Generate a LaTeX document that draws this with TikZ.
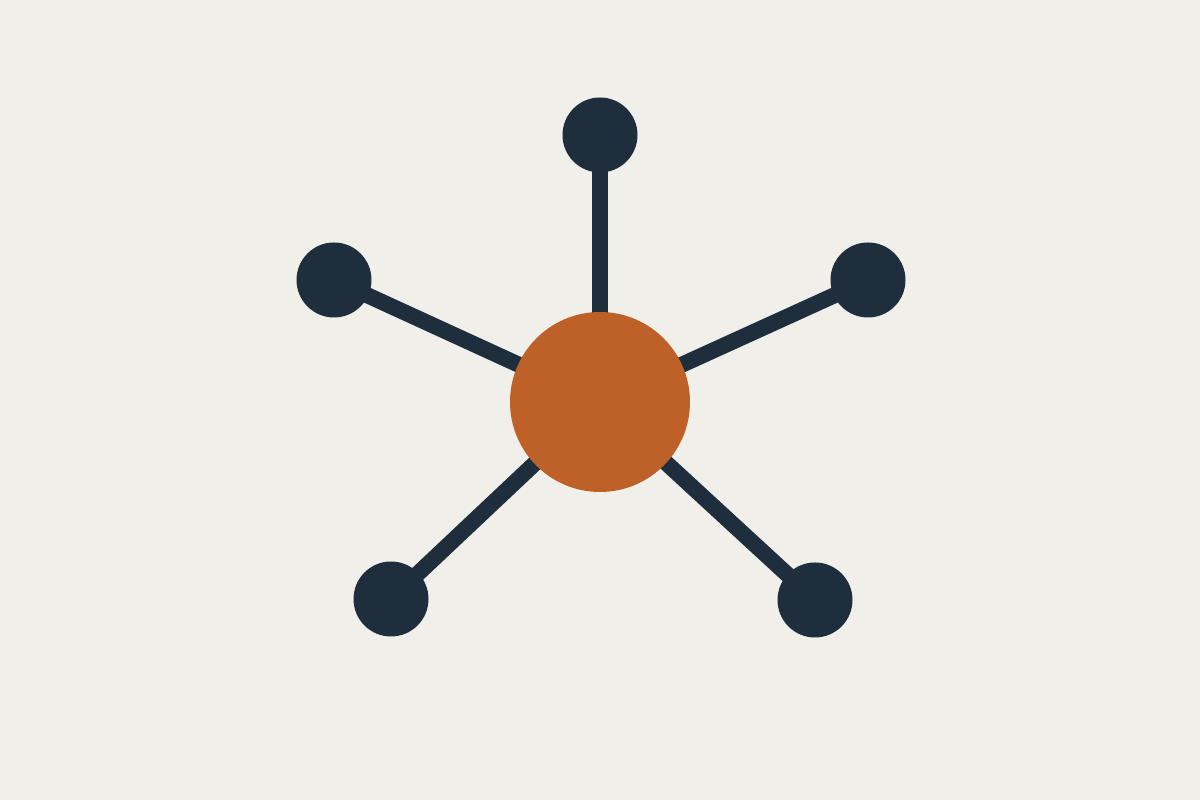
\documentclass[tikz,border=0pt]{standalone}
\usepackage{tikz}
\usetikzlibrary{shapes,positioning}
\definecolor{paper}{HTML}{F1EFEA}
\definecolor{navy}{HTML}{1F2E3C}
\definecolor{rust}{HTML}{BE6129}
\pgfdeclarelayer{bg}
\pgfsetlayers{bg,main}
\tikzset{
    hub/.style={circle,fill=rust,inner sep=0pt,minimum size=1.8cm},
    leaf/.style={circle,fill=navy,inner sep=0pt,minimum size=0.75cm},
    spoke/.style={navy,line width=0.16cm}
}

\begin{document}
\begin{tikzpicture}
    \useasboundingbox (0,0) rectangle (12,8);
    %Hub
    \node[hub] (hub) at (6,3.98) {};
    %Leaves
    \node[leaf] (top) at (6,6.65) {};
    \node[leaf] (left) at (3.34,5.2) {};
    \node[leaf] (right) at (8.68,5.2) {};
    \node[leaf] (botleft) at (3.91,2.01) {};
    \node[leaf] (botright) at (8.15,2.0) {};
    %Spokes
    \begin{pgfonlayer}{bg}
    \fill[paper] (0,0) rectangle (12,8);
    \foreach \n in {top,left,right,botleft,botright}
        \draw[spoke] (hub.center) -- (\n.center);
    \end{pgfonlayer}
\end{tikzpicture}
\end{document}
